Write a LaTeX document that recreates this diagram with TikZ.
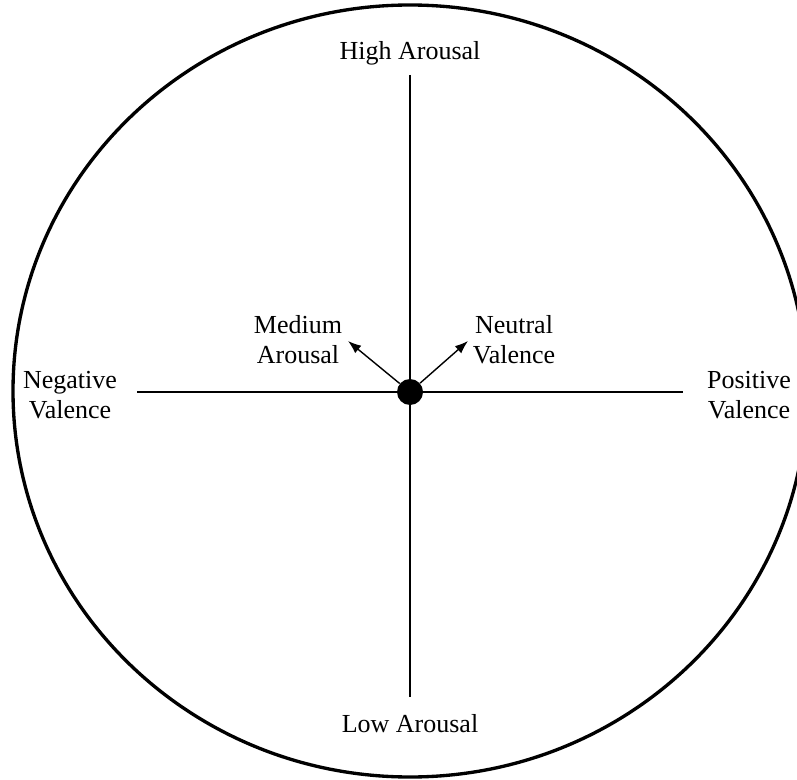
\documentclass[tikz,border=0pt]{standalone}
\usepackage{fontspec}
\setmainfont{Liberation Serif}
\usepackage{tikz}
\usetikzlibrary{arrows.meta}

\begin{document}
\begin{tikzpicture}[>={Latex[length=7.5pt,width=5.5pt]},x=0.02cm,y=-0.02cm,
  lbl/.style={align=center,font=\fontsize{14.8}{17}\selectfont,inner sep=0pt}]
\useasboundingbox (0,0) rectangle (797,780);
\begin{scope}
\clip (0,0) rectangle (797,780);
\draw[line width=1.9pt] (410,391) ellipse [x radius=397, y radius=386];
\end{scope}
% axes
\coordinate (top) at (410,75);
\coordinate (bot) at (410,697);
\coordinate (lft) at (137,392);
\coordinate (rgt) at (683,392);
\draw[line width=0.8pt] (top) -- (bot);
\draw[line width=0.8pt] (lft) -- (rgt);
\node[circle,fill=black,minimum size=26*0.02cm,inner sep=0pt] (dot) at (410,392) {};
\node[lbl] (high) at (410,53) {High Arousal};
\node[lbl] (low) at (410,724) {Low Arousal};
\node[lbl] (neg) at (70,395) {Negative\\Valence};
\node[lbl] (pos) at (749,395) {Positive\\Valence};
\node[lbl] (med) at (298,340) {Medium\\Arousal};
\node[lbl] (neu) at (514,340) {Neutral\\Valence};
\coordinate (medtip) at (348,341);
\coordinate (neutip) at (468,341);
\draw[->,line width=0.8pt] (dot) -- (medtip);
\draw[->,line width=0.8pt] (dot) -- (neutip);
\end{tikzpicture}
\end{document}
